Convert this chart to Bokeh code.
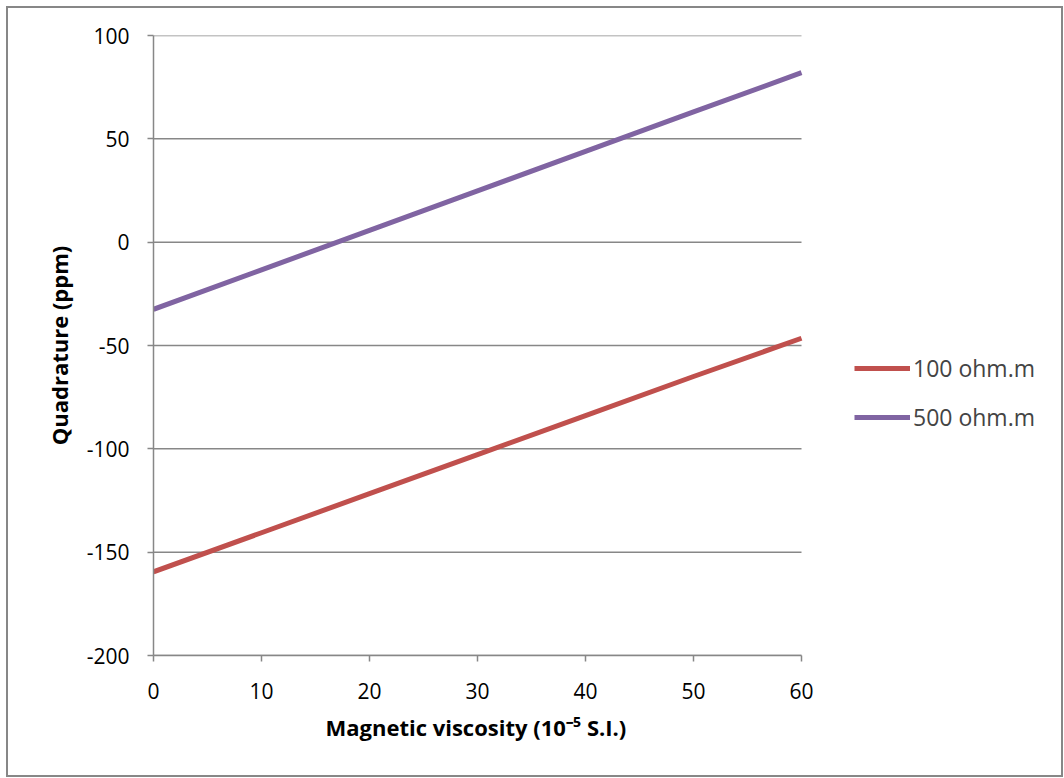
from bokeh.plotting import figure
from bokeh.models import Range1d, Legend, LegendItem, FixedTicker, Title
from bokeh.embed import file_html
from bokeh.resources import INLINE

x_vals = [0, 10, 20, 30, 40, 50, 60]
ohm100 = [-159.5, -140.6, -121.7, -102.8, -83.9, -65.0, -46.5]
ohm500 = [-32.5, -13.4, 5.7, 24.8, 43.9, 63.0, 82.0]
series_names = ["100 ohm.m", "500 ohm.m"]
colors = ["#C0504D", "#8064A2"]
x_ticks = [0, 10, 20, 30, 40, 50, 60]
y_ticks = [-200, -150, -100, -50, 0, 50, 100]
x_title = "Magnetic viscosity (10\u207b\u2075 S.I.)"
y_title = "Quadrature (ppm)"

FONT = "Open Sans"
GRAY = "#878787"

# data area spans 0..60 over 648 px; frame extended to the right to host the legend
X_END = 60 * 908 / 648

p = figure(width=1057, height=771, output_backend="svg", toolbar_location=None,
           x_range=Range1d(0, X_END), y_range=Range1d(-200, 100),
           min_border_left=145, min_border_right=4, min_border_top=27, min_border_bottom=124)
p.outline_line_color = None
p.background_fill_color = "white"
p.border_fill_color = "white"
p.styles = {"border": "2px solid #878787", "box-sizing": "border-box",
            "margin-left": "6px", "margin-top": "6px"}

# horizontal gridlines limited to the data area
p.xgrid.grid_line_color = None
p.ygrid.grid_line_color = None
p.segment(x0=[x_ticks[0]] * len(y_ticks), x1=[x_ticks[-1]] * len(y_ticks),
          y0=y_ticks, y1=y_ticks, line_color=GRAY, line_width=1.5)

r1 = p.line(x_vals, ohm100, line_color=colors[0], line_width=5)
r2 = p.line(x_vals, ohm500, line_color=colors[1], line_width=5)

p.xaxis.ticker = FixedTicker(ticks=x_ticks)
p.yaxis.ticker = FixedTicker(ticks=y_ticks)
p.yaxis.major_label_overrides = {t: str(t) for t in y_ticks}
p.xaxis.bounds = (x_ticks[0], x_ticks[-1])

for ax in (p.xaxis[0], p.yaxis[0]):
    ax.axis_line_color = GRAY
    ax.axis_line_width = 1.5
    ax.major_tick_line_color = GRAY
    ax.major_tick_line_width = 1.5
    ax.major_tick_in = 0
    ax.major_tick_out = 6
    ax.minor_tick_line_color = None
    ax.major_label_text_font = FONT
    ax.major_label_text_font_size = "21px"
    ax.major_label_text_color = "black"
    ax.axis_label_text_font = FONT
    ax.axis_label_text_font_size = "22px"
    ax.axis_label_text_font_style = "bold"
    ax.axis_label_text_color = "black"

p.yaxis.axis_label = y_title
p.xaxis.major_label_standoff = 21
p.yaxis.major_label_standoff = 18
p.yaxis.axis_label_standoff = 10

xt = Title(text=x_title, align="left", offset=172, text_font=FONT,
           text_font_size="22px", text_font_style="bold", text_color="black",
           standoff=17)
p.add_layout(xt, "below")

legend = Legend(items=[LegendItem(label=series_names[0], renderers=[r1]),
                       LegendItem(label=series_names[1], renderers=[r2])],
                location=(701, 222))
legend.border_line_color = None
legend.background_fill_alpha = 0
legend.margin = 0
legend.padding = 0
legend.label_text_font = FONT
legend.label_text_font_size = "23px"
legend.glyph_width = 56
legend.glyph_height = 20
legend.label_height = 20
legend.label_standoff = 3
legend.spacing = 17
p.add_layout(legend, "center")

open("out.html", "w").write(file_html(p, INLINE))
